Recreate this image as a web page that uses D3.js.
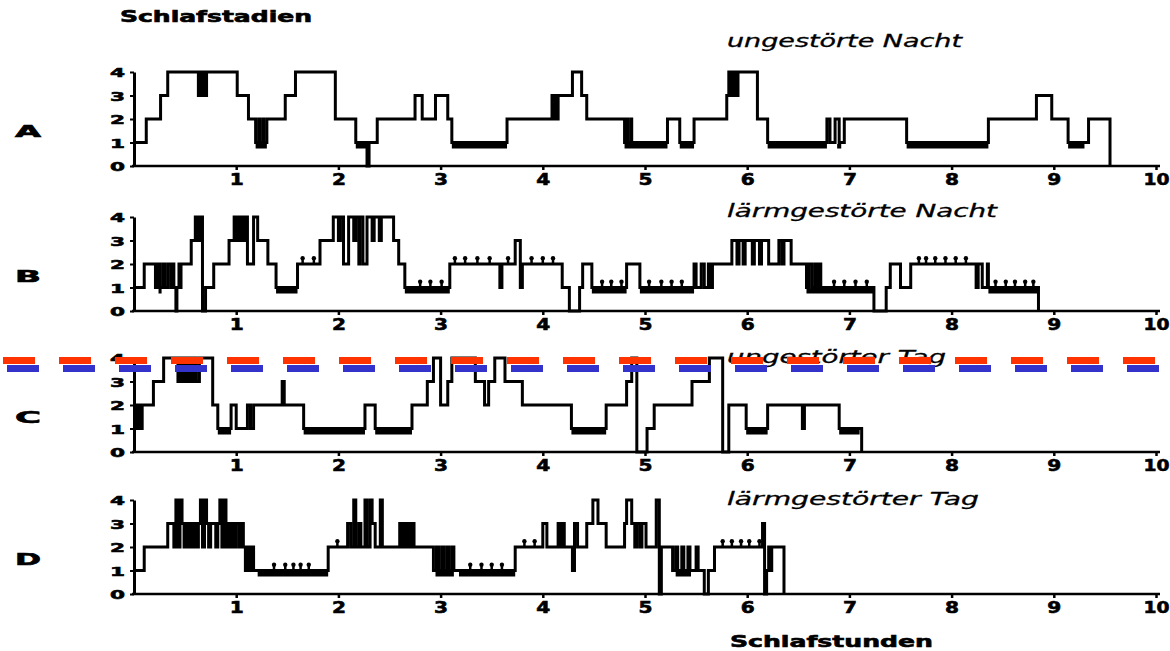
<!DOCTYPE html>
<html>
<head>
<meta charset="utf-8">
<script src="https://cdn.jsdelivr.net/npm/d3@7"></script>
<style>
  body { margin: 0; background: #fff; }
  svg { display: block; }
</style>
</head>
<body>
<div id="chart"></div>
<script>
// hypnograms: [time in hours, sleep stage] – stage holds from that time on
const stageTicks = [0, 1, 2, 3, 4];
const hourTicks = [1, 2, 3, 4, 5, 6, 7, 8, 9, 10];
const panelLetters = ['A', 'B', 'C', 'D'];
const panelTitles = ['ungestörte Nacht', 'lärmgestörte Nacht', 'ungestörter Tag', 'lärmgestörter Tag'];

const stepsA = [[0,1],[0.12,2],[0.26,3],[0.33,4],[0.63,3],[0.65,4],[0.66,3],[0.68,4],[0.69,3],[0.71,4],[1.01,3],[1.12,2],[1.19,1],[1.22,2],[1.23,1],[1.26,2],[1.27,1],[1.3,2],[1.48,3],[1.58,4],[1.97,2],[2.17,1],[2.28,0],[2.3,1],[2.38,2],[2.75,3],[2.82,2],[2.95,3],[3.07,2],[3.11,1],[3.65,2],[4.09,3],[4.11,2],[4.12,3],[4.14,2],[4.15,3],[4.29,4],[4.38,3],[4.43,2],[4.8,1],[4.82,2],[4.83,1],[4.86,2],[4.87,1],[5.22,2],[5.34,1],[5.48,2],[5.8,3],[5.82,4],[5.84,3],[5.85,4],[5.87,3],[5.88,4],[5.9,3],[5.91,4],[6.1,2],[6.2,1],[6.78,2],[6.81,1],[6.86,2],[6.9,1],[6.95,2],[7.56,1],[8.36,2],[8.83,3],[8.98,2],[9.14,1],[9.34,2],[9.55,0]];

const stepsB = [[0,1],[0.1,2],[0.21,1],[0.23,2],[0.25,1],[0.28,2],[0.3,1],[0.33,2],[0.36,1],[0.38,2],[0.39,1],[0.41,0],[0.42,1],[0.44,2],[0.45,1],[0.46,2],[0.56,3],[0.6,4],[0.62,3],[0.63,4],[0.65,3],[0.66,4],[0.67,0],[0.7,1],[0.78,2],[0.93,3],[0.98,4],[1.0,3],[1.02,4],[1.04,3],[1.06,4],[1.08,3],[1.1,4],[1.11,2],[1.17,4],[1.21,3],[1.31,2],[1.39,1],[1.6,2],[1.82,3],[1.95,4],[2.0,3],[2.02,4],[2.05,2],[2.1,4],[2.15,3],[2.17,4],[2.2,2],[2.21,4],[2.24,2],[2.28,4],[2.33,3],[2.35,4],[2.4,3],[2.42,4],[2.54,3],[2.59,2],[2.65,1],[3.09,2],[3.58,1],[3.6,2],[3.73,3],[3.78,1],[3.8,2],[4.19,1],[4.26,0],[4.36,1],[4.39,2],[4.48,1],[4.82,2],[4.95,1],[5.48,2],[5.5,1],[5.55,2],[5.58,1],[5.62,2],[5.64,1],[5.66,2],[5.85,3],[5.9,2],[5.92,3],[5.96,2],[5.98,3],[6.05,2],[6.07,3],[6.12,2],[6.14,3],[6.21,2],[6.31,3],[6.34,2],[6.36,3],[6.43,2],[6.58,1],[6.6,2],[6.63,1],[6.66,2],[6.68,1],[6.7,2],[6.72,1],[7.24,0],[7.36,1],[7.4,2],[7.5,1],[7.6,2],[8.24,1],[8.26,2],[8.3,1],[8.35,2],[8.36,1],[8.85,0]];

const stepsC = [[0,1],[0.02,2],[0.03,1],[0.05,2],[0.06,1],[0.08,2],[0.19,3],[0.29,4],[0.43,3],[0.45,4],[0.46,3],[0.48,4],[0.49,3],[0.51,4],[0.52,3],[0.54,4],[0.55,3],[0.57,4],[0.58,3],[0.6,4],[0.61,3],[0.64,4],[0.77,2],[0.82,1],[0.95,2],[1.0,1],[1.11,2],[1.14,1],[1.17,2],[1.45,3],[1.47,2],[1.66,1],[2.26,2],[2.36,1],[2.72,2],[2.87,3],[2.93,4],[3.0,2],[3.07,3],[3.11,4],[3.34,3],[3.43,2],[3.47,3],[3.53,4],[3.63,3],[3.8,2],[4.28,1],[4.62,2],[4.82,3],[4.87,4],[4.92,0],[5.02,1],[5.09,2],[5.46,3],[5.63,4],[5.76,0],[5.82,2],[5.99,1],[6.2,2],[6.54,1],[6.56,2],[6.9,1],[7.12,0]];

const stepsD = [[0,1],[0.1,2],[0.33,3],[0.39,2],[0.41,4],[0.43,2],[0.45,4],[0.47,3],[0.49,2],[0.51,3],[0.53,2],[0.55,3],[0.57,2],[0.59,3],[0.61,2],[0.63,3],[0.65,4],[0.67,2],[0.69,4],[0.71,3],[0.73,2],[0.75,3],[0.8,2],[0.82,3],[0.84,4],[0.86,2],[0.88,4],[0.9,2],[0.92,3],[0.94,2],[0.96,3],[0.98,2],[1.0,3],[1.03,2],[1.05,3],[1.07,2],[1.09,1],[1.11,2],[1.13,1],[1.15,2],[1.17,1],[1.9,2],[2.09,3],[2.12,2],[2.15,4],[2.17,2],[2.2,3],[2.22,2],[2.26,4],[2.28,2],[2.31,4],[2.33,3],[2.36,2],[2.41,4],[2.43,2],[2.6,3],[2.62,2],[2.64,3],[2.66,2],[2.68,3],[2.7,2],[2.72,3],[2.74,2],[2.93,1],[2.96,2],[2.98,1],[3.01,2],[3.03,1],[3.06,2],[3.08,1],[3.11,2],[3.13,1],[3.73,2],[4.0,3],[4.04,2],[4.15,3],[4.17,2],[4.19,3],[4.21,2],[4.29,1],[4.31,3],[4.34,2],[4.43,3],[4.49,4],[4.54,3],[4.62,2],[4.8,3],[4.82,4],[4.87,3],[4.9,2],[4.92,3],[4.95,2],[4.97,3],[5.01,2],[5.11,4],[5.14,0],[5.16,2],[5.27,1],[5.3,2],[5.32,1],[5.36,2],[5.38,1],[5.42,2],[5.44,1],[5.5,2],[5.52,1],[5.58,0],[5.62,1],[5.68,2],[6.15,3],[6.17,0],[6.19,1],[6.21,2],[6.22,1],[6.24,2],[6.36,0]];

// REM periods [start, end] in hours
const remA = [[1.19,1.3],[2.17,2.3],[3.11,3.65],[4.8,5.22],[5.34,5.48],[6.2,6.78],[6.88,6.92],[7.56,8.36],[9.14,9.3]];
const remB = [[0.24,0.27],[1.39,1.6],[2.65,3.09],[4.48,4.82],[4.95,5.48],[6.58,7.24],[8.36,8.85]];
const remC = [[0.82,0.95],[1.66,2.26],[2.36,2.72],[4.28,4.62],[5.99,6.2],[6.9,7.1]];
const remD = [[1.21,1.9],[2.95,3.13],[3.18,3.73],[5.3,5.45]];

// short movement marks [time, stage]
const moveA = [];
const moveB = [[1.65,2],[1.76,2],[2.8,1],[2.9,1],[3.01,1],[3.14,2],[3.24,2],[3.36,2],[3.48,2],[3.66,2],[3.89,2],[4.0,2],[4.1,2],[4.58,1],[4.67,1],[4.77,1],[5.04,1],[5.16,1],[5.26,1],[5.36,1],[6.85,1],[6.95,1],[7.06,1],[7.17,1],[7.68,2],[7.75,2],[7.84,2],[7.94,2],[8.04,2],[8.14,2],[8.43,1],[8.53,1],[8.62,1],[8.72,1],[8.8,1]];
const moveC = [];
const moveD = [[1.37,1],[1.48,1],[1.56,1],[1.63,1],[1.71,1],[1.99,2],[3.29,1],[3.4,1],[3.5,1],[3.6,1],[3.82,2],[3.92,2],[5.76,2],[5.85,2],[5.94,2],[6.02,2],[6.12,2]];

const steps = [stepsA, stepsB, stepsC, stepsD];
const rems = [remA, remB, remC, remD];
const moves = [moveA, moveB, moveC, moveD];

const width = 1170, height = 651;
const panelTop = [72, 217, 358, 500];
const panelHeight = 94;
const titleBase = [47, 217, 363, 505];
const titleLen = [235, 270, 219, 252];
const font = '"DejaVu Sans", "Liberation Sans", sans-serif';

const svg = d3.select('#chart').append('svg')
  .attr('width', width)
  .attr('height', height)
  .style('background', '#fff');

const x = d3.scaleLinear().domain([0, 10]).range([134, 1156]);

// heavy bold text, like the scanned original
function heavy(sel, size, len) {
  sel.attr('font-family', font).attr('font-weight', 'bold').attr('font-size', size)
    .attr('stroke', '#000').attr('stroke-width', 0.6).attr('fill', '#000')
    .attr('textLength', len).attr('lengthAdjust', 'spacingAndGlyphs');
}

svg.append('text')
  .attr('x', 120).attr('y', 22)
  .call(heavy, 15, 192)
  .text('Schlafstadien');

panelLetters.forEach((letter, i) => {
  const top = panelTop[i];
  const y = d3.scaleLinear().domain([0, 4]).range([top + panelHeight, top]);
  const g = svg.append('g');

  // x axis
  const xAxis = g.append('g')
    .attr('transform', `translate(0, ${y(0)})`)
    .call(d3.axisBottom(x).tickValues(hourTicks).tickSize(4).tickSizeOuter(0).tickFormat(d3.format('d')));
  xAxis.select('.domain').remove();
  xAxis.append('line')
    .attr('x1', x(0) - 2).attr('x2', x(10) + 4)
    .attr('stroke', '#000').attr('stroke-width', 2.5);
  xAxis.selectAll('.tick line').attr('stroke', '#000').attr('stroke-width', 2.5);
  xAxis.selectAll('.tick text')
    .attr('y', 19).attr('dy', null)
    .each(function (d) { d3.select(this).call(heavy, 16, d === 10 ? 26 : 14); });

  // y axis
  const yAxis = g.append('g')
    .attr('transform', `translate(${x(0)}, 0)`)
    .call(d3.axisLeft(y).tickValues(stageTicks).tickSize(4).tickSizeOuter(0).tickFormat(d3.format('d')));
  yAxis.select('.domain').attr('stroke', '#000').attr('stroke-width', 3);
  yAxis.selectAll('.tick line').attr('stroke', '#000').attr('stroke-width', 2);
  yAxis.selectAll('.tick text')
    .attr('x', -9).attr('dy', '0.36em')
    .call(heavy, 13, 15);

  // panel letter
  g.append('text')
    .attr('x', 15).attr('y', y(1.5) + 6)
    .call(heavy, 15, 26)
    .text(letter);

  // title
  g.append('text')
    .attr('x', 727).attr('y', titleBase[i])
    .attr('font-family', font).attr('font-style', 'italic').attr('font-size', 17)
    .attr('stroke', '#000').attr('stroke-width', 0.3)
    .attr('textLength', titleLen[i]).attr('lengthAdjust', 'spacingAndGlyphs')
    .text(panelTitles[i]);

  // REM bars
  g.selectAll('.rem')
    .data(rems[i])
    .enter()
    .append('line')
      .attr('class', 'rem')
      .attr('x1', d => x(d[0])).attr('x2', d => x(d[1]))
      .attr('y1', y(0.84)).attr('y2', y(0.84))
      .attr('stroke', '#000').attr('stroke-width', 4.5);

  // movement marks
  g.selectAll('.move')
    .data(moves[i])
    .enter()
    .append('line')
      .attr('class', 'move')
      .attr('x1', d => x(d[0])).attr('x2', d => x(d[0]))
      .attr('y1', d => y(d[1])).attr('y2', d => y(d[1] + 0.25))
      .attr('stroke', '#000').attr('stroke-width', 2.5);
  g.selectAll('.move-dot')
    .data(moves[i])
    .enter()
    .append('circle')
      .attr('class', 'move-dot')
      .attr('cx', d => x(d[0])).attr('cy', d => y(d[1] + 0.25))
      .attr('r', 2.2).attr('fill', '#000');

  // hypnogram
  const line = d3.line()
    .x(d => x(d[0]))
    .y(d => y(d[1]))
    .curve(d3.curveStepAfter);
  g.append('path')
    .datum(steps[i])
    .attr('d', line)
    .attr('fill', 'none')
    .attr('stroke', '#000')
    .attr('stroke-width', 3)
    .attr('stroke-linejoin', 'miter');
});

svg.append('text')
  .attr('x', 730).attr('y', 647)
  .call(heavy, 16, 203)
  .text('Schlafstunden');

// red / blue dashed marker line across panel C
svg.append('line')
  .attr('x1', 3).attr('x2', width)
  .attr('y1', 360.5).attr('y2', 360.5)
  .attr('stroke', '#ff3300').attr('stroke-width', 7)
  .attr('stroke-dasharray', '32,24');
svg.append('line')
  .attr('x1', 7).attr('x2', width)
  .attr('y1', 368.5).attr('y2', 368.5)
  .attr('stroke', '#3333cc').attr('stroke-width', 7)
  .attr('stroke-dasharray', '32,24');
</script>
</body>
</html>
